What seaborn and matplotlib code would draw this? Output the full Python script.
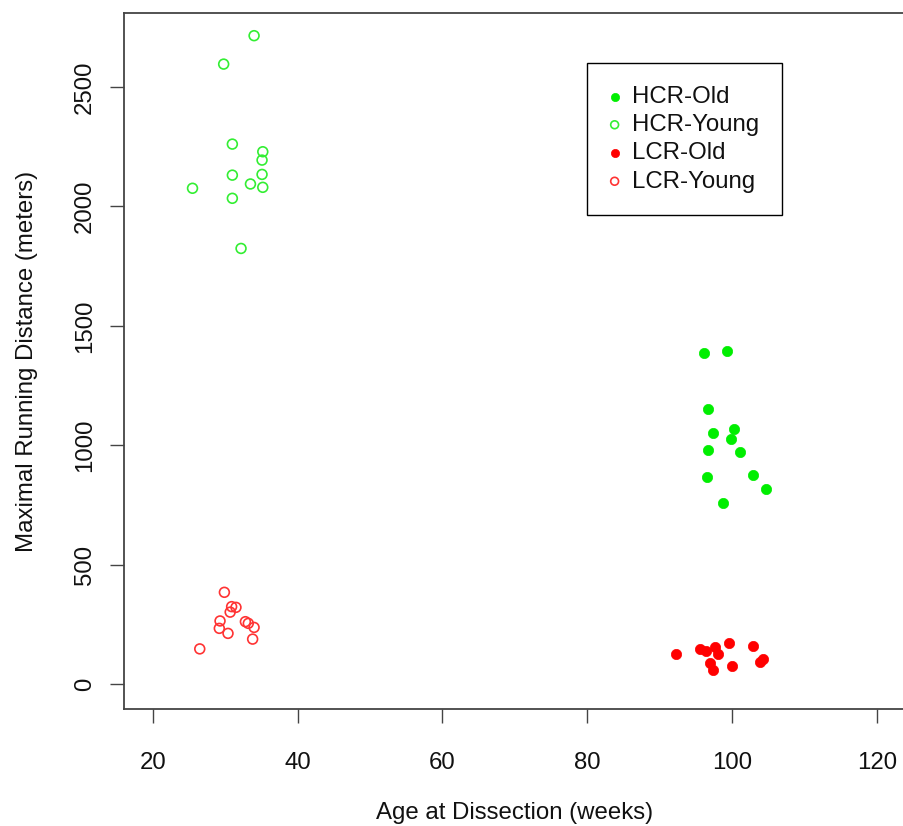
import numpy as np
import pandas as pd
import matplotlib
matplotlib.use('Agg')
import matplotlib.pyplot as plt
import seaborn as sns

sns.set_theme(style='ticks')
plt.rcParams['font.family'] = ['Liberation Sans', 'DejaVu Sans']
plt.rcParams['text.color'] = '#111111'
plt.rcParams['axes.labelcolor'] = '#111111'
plt.rcParams['xtick.labelcolor'] = '#111111'
plt.rcParams['ytick.labelcolor'] = '#111111'

# valores
hcr_young_age = [34.0, 29.8, 31.0, 35.2, 35.1, 31.0, 35.1, 33.5, 35.2, 25.5, 31.0, 32.2]
hcr_young_dist = [2715, 2596, 2261, 2229, 2194, 2131, 2134, 2094, 2080, 2076, 2034, 1824]

lcr_young_age = [29.9, 30.9, 31.5, 30.7, 29.3, 32.8, 33.2, 34.0, 29.2, 30.4, 33.8, 26.5]
lcr_young_dist = [384, 324, 321, 301, 264, 261, 254, 237, 233, 212, 188, 147]

hcr_old_age = [96.1, 99.3, 96.6, 97.3, 100.3, 99.8, 96.7, 101.1, 96.5, 102.9, 104.7, 98.8]
hcr_old_dist = [1385, 1393, 1152, 1050, 1068, 1026, 980, 970, 866, 875, 815, 757]

lcr_old_age = [92.2, 95.6, 96.4, 97.7, 98.1, 99.6, 96.9, 97.4, 100.0, 102.9, 103.8, 104.2]
lcr_old_dist = [124, 145, 139, 156, 124, 173, 87, 59, 77, 160, 93, 105]

groups = ['HCR-Old', 'HCR-Young', 'LCR-Old', 'LCR-Young']
group_colors = {'HCR-Old': '#00ee00', 'HCR-Young': '#33ee33',
                'LCR-Old': '#ff0000', 'LCR-Young': '#ff3333'}

df = pd.concat([
    pd.DataFrame({'age': hcr_old_age, 'dist': hcr_old_dist, 'group': 'HCR-Old'}),
    pd.DataFrame({'age': hcr_young_age, 'dist': hcr_young_dist, 'group': 'HCR-Young'}),
    pd.DataFrame({'age': lcr_old_age, 'dist': lcr_old_dist, 'group': 'LCR-Old'}),
    pd.DataFrame({'age': lcr_young_age, 'dist': lcr_young_dist, 'group': 'LCR-Young'}),
])

W, H = 904, 826
fig = plt.figure(figsize=(W / 100, H / 100), dpi=100)
ax = fig.add_axes([123.7 / W, (H - 709) / H, (906 - 123.7) / W, 696 / H])

for g in groups:
    sub = df[df['group'] == g]
    c = group_colors[g]
    if g.endswith('Old'):
        sns.scatterplot(data=sub, x='age', y='dist', ax=ax, marker='o', s=55,
                        color=c, edgecolor=c, linewidth=0.5, label=g)
    else:
        sns.scatterplot(data=sub, x='age', y='dist', ax=ax, marker='o', s=50,
                        facecolors='none', edgecolor=c, linewidth=1.2, label=g)

ax.set_xlim(16, 124)
ax.set_ylim(-104.7, 2810)
ax.set_xticks([20, 40, 60, 80, 100, 120])
ax.set_yticks([0, 500, 1000, 1500, 2000, 2500])

fs = 17.3
ax.set_xlabel('Age at Dissection (weeks)', fontsize=fs, labelpad=20)
ax.set_ylabel('Maximal Running Distance (meters)', fontsize=fs, labelpad=26)
ax.tick_params(axis='x', length=10, width=1, color='#444444', pad=21, labelsize=fs)
ax.tick_params(axis='y', length=10, width=1, color='#444444', pad=10, labelsize=fs)
plt.setp(ax.get_yticklabels(), rotation=90, va='center')

for sp in ax.spines.values():
    sp.set_color('#444444')
    sp.set_linewidth(1.3)

leg = ax.legend(loc='upper left', bbox_to_anchor=(587 / W, 1 - 63 / H),
                bbox_transform=fig.transFigure, borderaxespad=0, fontsize=fs,
                frameon=True, fancybox=False, edgecolor='black', framealpha=1,
                markerscale=0.8, handlelength=0.4, handletextpad=0.53,
                labelspacing=0.26, borderpad=0.95)
leg.get_frame().set_linewidth(1.0)

fig.savefig('out.png', dpi=100)
